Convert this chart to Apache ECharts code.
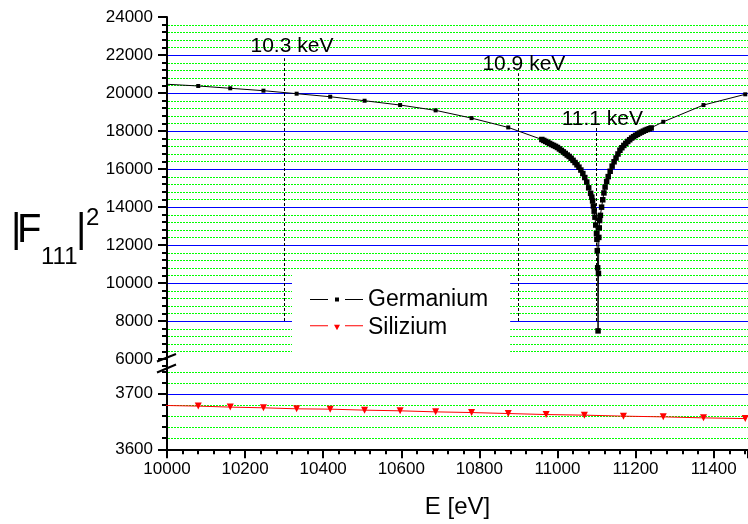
<!DOCTYPE html>
<html>
<head>
<meta charset="utf-8">
<script src="https://cdn.jsdelivr.net/npm/echarts@6/dist/echarts.min.js"></script>
<style>
html, body { margin: 0; padding: 0; background: #fff; }
#chart { width: 748px; height: 524px; }
</style>
</head>
<body>
<div id="chart"></div>
<script>
// Germanium |F111|^2: regular markers, dense sampling around the K edge (~11.1 keV)
const geE = [9995, 10080, 10162, 10247, 10332, 10418, 10506, 10597, 10688, 10780, 10874,
    10960, 10965, 10970, 10975, 10980, 10985, 10990, 10995, 11000, 11005, 11010, 11015, 11020,
    11025, 11030, 11035, 11040, 11045, 11050, 11055, 11060, 11065, 11070, 11075, 11080, 11085,
    11088, 11090, 11092, 11094, 11096, 11098, 11100, 11101, 11102, 11103, 11104,
    11105, 11106, 11107, 11108, 11110, 11113, 11116, 11119, 11122, 11126, 11130,
    11135, 11140, 11145, 11150, 11155, 11160, 11165, 11170, 11175, 11180, 11185, 11190, 11195,
    11200, 11205, 11210, 11215, 11220, 11225, 11230, 11235, 11240,
    11271, 11374, 11481];
const geV = [20465, 20370, 20248, 20122, 19963, 19804, 19593, 19366, 19086, 18679, 18188,
    17554, 17503, 17451, 17398, 17344, 17289, 17240, 17190, 17132, 17055, 16980, 16900, 16820,
    16735, 16660, 16565, 16455, 16340, 16220, 16095, 15945, 15760, 15550, 15313, 15010, 14720,
    14520, 14320, 14050, 13780, 13464, 13050, 12600, 12300, 11700, 10800, 7480,
    10500, 12400, 12900, 13290, 13560, 13992, 14380, 14740, 15049, 15340, 15600,
    15880, 16150, 16380, 16580, 16790, 16988, 17120, 17240, 17350, 17450, 17540, 17630, 17700,
    17770, 17830, 17890, 17940, 17990, 18040, 18080, 18120, 18160,
    18483, 19366, 19931];

// Silizium |F111|^2
const siE = [9995, 10080, 10162, 10247, 10332, 10418, 10506, 10597, 10688, 10780, 10874,
    10971, 11069, 11169, 11271, 11374, 11481];
const siV = [3678.9, 3677.8, 3676.0, 3674.7, 3672.9, 3672.3, 3670.5, 3669.3, 3667.4, 3666.2, 3664.4,
    3662.6, 3661.5, 3659.7, 3658.4, 3656.6, 3655.3];

// marked energies (dashed lines) and their labels
const edgeE = [10300, 10900, 11100];
const edgeTop = [21830, 21040, 18260];
const edgeBottom = 8000;
const edgeNames = ['10.3 keV', '10.9 keV', '11.1 keV'];
const edgeLabelE = [10320, 10914, 11115];
const edgeLabelV = [22483, 21511, 18631];

const FONT = '"Liberation Sans", Arial, sans-serif';
const xMin = 10000, xMax = 11488;
const upper = { min: 6000, max: 24000, major: 2000, minor: 400 };
const lower = { min: 3600, max: 3750, major: 100, minor: 20 };
const denseFrom = 10960, denseTo = 11240;

const chart = echarts.init(document.getElementById('chart'));

const geData = geE.map((e, i) => ({
    value: [e, geV[i]],
    symbolSize: e >= denseFrom && e <= denseTo ? 5.5 : 4
}));
const siData = siE.map((e, i) => [e, siV[i]]);

const black = '#000';
const axisLine = { show: true, onZero: false, lineStyle: { color: black, width: 2 } };
const bigTick = { show: true, length: 9, lineStyle: { color: black, width: 2 } };
const smallTick = { show: true, length: 5, lineStyle: { color: black, width: 2 } };
const numLabel = (step) => ({
    color: black, fontSize: 17, fontFamily: FONT, margin: 14,
    formatter: (v) => (v % step === 0 ? String(v) : '')
});
const minorAxis = (gridIndex, r) => ({
    gridIndex: gridIndex, type: 'value', min: r.min, max: r.max, interval: r.minor,
    position: 'left', offset: 0,
    axisLine: { show: false }, axisLabel: { show: false }, splitLine: { show: false },
    axisTick: smallTick
});

const option = {
    animation: false,
    textStyle: { fontFamily: FONT },
    grid: [
        { left: 167, right: 0, top: 17, height: 342, outerBoundsMode: 'none' },
        { left: 167, right: 0, top: 366, height: 83.3, outerBoundsMode: 'none' }
    ],
    xAxis: [
        { gridIndex: 0, type: 'value', min: xMin, max: xMax, show: false },
        {
            gridIndex: 1, type: 'value', min: xMin, max: xMax, interval: 200, position: 'bottom',
            axisLine: axisLine, axisTick: bigTick,
            axisLabel: Object.assign(numLabel(200), { margin: 12 }),
            splitLine: { show: false },
            name: 'E [eV]', nameLocation: 'middle', nameGap: 46,
            nameTextStyle: { fontSize: 24, color: black, fontFamily: FONT }
        },
        {
            gridIndex: 1, type: 'value', min: xMin, max: xMax, interval: 40, position: 'bottom', offset: 0,
            axisLine: { show: false }, axisLabel: { show: false }, splitLine: { show: false },
            axisTick: smallTick
        }
    ],
    yAxis: [
        {
            gridIndex: 0, type: 'value', min: upper.min, max: upper.max, interval: upper.major, position: 'left',
            axisLine: axisLine, axisTick: bigTick, axisLabel: numLabel(upper.major),
            splitLine: { show: false }
        },
        minorAxis(0, upper),
        {
            gridIndex: 1, type: 'value', min: lower.min, max: lower.max, interval: lower.major, position: 'left',
            axisLine: axisLine,
            axisTick: Object.assign({ customValues: [3600, 3700] }, bigTick),
            axisLabel: Object.assign(numLabel(lower.major), { customValues: [3600, 3700] }),
            splitLine: { show: false }
        },
        minorAxis(1, lower)
    ],
    legend: {
        orient: 'vertical', left: 292, top: 271, padding: [17, 22, 20, 18],
        itemGap: 5, itemWidth: 53, itemHeight: 7, selectedMode: false,
        backgroundColor: '#fff',
        itemStyle: { borderWidth: 0 },
        textStyle: { fontSize: 23, color: black, fontFamily: FONT },
        data: [
            { name: 'Germanium', icon: 'path://M0,3h18v1h-18z M25,1.5h4v4h-4z M35,3h18v1h-18z' },
            { name: 'Silizium', icon: 'path://M0,2h18v1h-18z M24,1.5h6l-3,5.5z M35,2h18v1h-18z' }
        ]
    },
    series: [
        {
            name: 'Germanium', type: 'line', xAxisIndex: 0, yAxisIndex: 0, data: geData,
            color: black, symbol: 'rect', showSymbol: true, showAllSymbol: true,
            lineStyle: { color: black, width: 1 }, itemStyle: { color: black },
            markLine: {
                silent: true, symbol: ['none', 'none'], label: { show: false },
                lineStyle: { color: black, width: 1, type: [3, 2] },
                data: edgeE.map((e, i) => [{ coord: [e, edgeBottom] }, { coord: [e, edgeTop[i]] }])
            },
            markPoint: {
                silent: true, symbol: 'circle', symbolSize: 1, itemStyle: { color: 'rgba(0,0,0,0)' },
                label: { show: true, position: 'inside', formatter: '{b}', fontSize: 21, color: black, fontFamily: FONT },
                data: edgeNames.map((n, i) => ({ name: n, coord: [edgeLabelE[i], edgeLabelV[i]] }))
            }
        },
        {
            name: 'Silizium', type: 'line', xAxisIndex: 1, yAxisIndex: 2, data: siData,
            color: '#ff0000', symbol: 'triangle', symbolRotate: 180, symbolSize: 7,
            showSymbol: true, showAllSymbol: true,
            lineStyle: { color: '#ff0000', width: 1 }, itemStyle: { color: '#ff0000' }
        }
    ]
};

chart.setOption(option);

// grid lines (blue every major step, green dotted every minor step), placed through the axis scales
const ax = chart.convertToPixel({ xAxisIndex: 1 }, xMin);
const axEnd = chart.convertToPixel({ xAxisIndex: 1 }, xMax);
const blueStyle = { stroke: '#0000ff', lineWidth: 1 };
const greenStyle = { stroke: '#00ff00', lineWidth: 1, lineDash: [2, 1] };

function gridLines(yAxisIndex, r) {
    const out = [];
    for (let v = r.min + r.minor; v < r.max; v += r.minor) {
        const y = Math.round(chart.convertToPixel({ yAxisIndex: yAxisIndex }, v)) + 0.5;
        const isMajor = (v - r.min) % r.major === 0;
        out.push({
            type: 'line', z: -1, silent: true,
            shape: { x1: ax + 1, y1: y, x2: axEnd, y2: y },
            style: isMajor ? blueStyle : greenStyle
        });
    }
    return out;
}

// axis break marks + y axis title with sub/superscript
const gapTop = chart.convertToPixel({ yAxisIndex: 0 }, upper.min);
const gapBottom = chart.convertToPixel({ yAxisIndex: 2 }, lower.max);
const gc = (gapTop + gapBottom) / 2;
const stroke = { stroke: black, lineWidth: 2 };
const txt = (text, x, y, size) => ({
    type: 'text', x: x, y: y,
    style: { text: text, fill: black, font: size + 'px ' + FONT, verticalAlign: 'middle', textVerticalAlign: 'middle' }
});

chart.setOption({
    graphic: gridLines(0, upper).concat(gridLines(2, lower), [
        { type: 'line', shape: { x1: ax, y1: gapTop, x2: ax, y2: gapBottom }, style: stroke },
        { type: 'line', shape: { x1: ax - 10, y1: gc - 1, x2: ax + 9, y2: gc - 8.5 }, style: stroke },
        { type: 'line', shape: { x1: ax - 10, y1: gc + 10, x2: ax + 9, y2: gc + 2 }, style: stroke },
        txt('|', 11, 231, 40),
        txt('F', 17, 231, 40),
        txt('111', 41, 257, 24),
        txt('|', 76, 231, 40),
        txt('2', 86, 218, 24)
    ])
});
</script>
</body>
</html>
